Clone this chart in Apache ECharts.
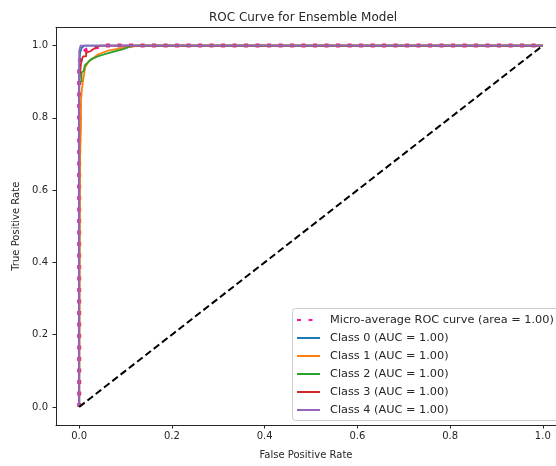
<!DOCTYPE html>
<html>
<head>
<meta charset="utf-8">
<script src="https://cdn.jsdelivr.net/npm/echarts@6/dist/echarts.min.js"></script>
<style>html,body{margin:0;padding:0;background:#fff;}#c{width:556px;height:466px;}</style>
</head>
<body>
<div id="c"></div>
<script>
// ---- data ----
const tickValues = [0, 0.2, 0.4, 0.6, 0.8, 1.0];

const microFpr = [0, 0, 0.003, 0.006, 0.01, 0.015, 0.025, 0.04, 0.06, 1];
const microTpr = [0, 0.95, 0.965, 0.975, 0.982, 0.988, 0.992, 0.996, 1, 1];

const class0Fpr = [0, 0, 0.002, 0.002, 0.006, 0.006, 0.012, 1];
const class0Tpr = [0, 0.94, 0.94, 0.98, 0.98, 0.995, 1, 1];

const class1Fpr = [0, 0.002, 0.004, 0.004, 0.006, 0.008, 0.013, 0.02, 0.03, 0.04, 0.06, 0.08, 0.1, 0.13, 1];
const class1Tpr = [0, 0.7, 0.78, 0.85, 0.88, 0.9, 0.94, 0.955, 0.965, 0.975, 0.985, 0.99, 0.995, 1, 1];

const class2Fpr = [0, 0, 0.005, 0.005, 0.01, 0.012, 0.02, 0.025, 0.04, 0.055, 0.075, 0.095, 0.115, 1];
const class2Tpr = [0, 0.9, 0.9, 0.925, 0.93, 0.945, 0.955, 0.962, 0.97, 0.976, 0.983, 0.99, 1, 1];

const class3Fpr = [0, 0, 0.004, 0.004, 0.008, 0.008, 0.015, 0.015, 0.025, 0.03, 0.045, 1];
const class3Tpr = [0, 0.9, 0.9, 0.95, 0.95, 0.97, 0.97, 0.98, 0.985, 0.99, 1, 1];

const class4Fpr = [0, 0, 0.003, 1];
const class4Tpr = [0, 0.985, 1, 1];

const diagFpr = [0, 1];
const diagTpr = [0, 1];

const seriesNames = [
  'Micro-average ROC curve (area = 1.00)',
  'Class 0 (AUC = 1.00)',
  'Class 1 (AUC = 1.00)',
  'Class 2 (AUC = 1.00)',
  'Class 3 (AUC = 1.00)',
  'Class 4 (AUC = 1.00)'
];
const classColors = ['#1f77b4', '#ff7f0e', '#2ca02c', '#d62728', '#9467bd'];
const microColor = '#ff1493';

function pairs(xs, ys) { return xs.map((x, i) => [x, ys[i]]); }

const FONT = 'DejaVu Sans';
const INK = '#262626';

const classData = [
  pairs(class0Fpr, class0Tpr),
  pairs(class1Fpr, class1Tpr),
  pairs(class2Fpr, class2Tpr),
  pairs(class3Fpr, class3Tpr),
  pairs(class4Fpr, class4Tpr)
];

const series = [{
  name: seriesNames[0],
  type: 'line',
  data: pairs(microFpr, microTpr),
  showSymbol: false,
  symbol: 'none',
  color: microColor,
  lineStyle: { color: microColor, width: 4, type: [4, 7.5], cap: 'butt' },
  animation: false
}];
classData.forEach((d, i) => {
  series.push({
    name: seriesNames[i + 1],
    type: 'line',
    data: d,
    showSymbol: false,
    symbol: 'none',
    color: classColors[i],
    lineStyle: { color: classColors[i], width: 1.8 },
    animation: false
  });
});
series.push({
  name: 'diag',
  type: 'line',
  data: pairs(diagFpr, diagTpr),
  showSymbol: false,
  symbol: 'none',
  color: '#000',
  lineStyle: { color: '#000', width: 2, type: [7, 3.5], cap: 'butt' },
  animation: false
});

const chart = echarts.init(document.getElementById('c'), null, { renderer: 'canvas' });
chart.setOption({
  animation: false,
  backgroundColor: '#fff',
  textStyle: { fontFamily: FONT },
  title: {
    text: 'ROC Curve for Ensemble Model',
    left: 298,
    top: 7,
    textAlign: 'center',
    textStyle: { fontFamily: FONT, fontSize: 12, fontWeight: 'normal', color: INK }
  },
  grid: { left: 56, top: 27.5, width: 510, height: 397.5, outerBoundsMode: 'none', containLabel: false },
  graphic: [{
    type: 'rect',
    z: 3,
    silent: true,
    shape: { x: 292.5, y: 308.5, width: 290, height: 112, r: 3 },
    style: { fill: 'rgba(255,255,255,0.8)', stroke: '#cccccc', lineWidth: 1 }
  }],
  legend: {
    data: seriesNames,
    orient: 'vertical',
    left: 292,
    top: 310,
    z: 4,
    padding: [3, 0, 3, 4],
    itemWidth: 23,
    itemHeight: 14,
    itemGap: 4,
    backgroundColor: 'transparent',
    borderWidth: 0,
    itemStyle: { opacity: 0 },
    textStyle: { fontFamily: FONT, fontSize: 11.3, color: INK, lineHeight: 14, padding: [0, 0, 0, 5] },
    selectedMode: false
  },
  xAxis: [{
    type: 'value',
    min: -0.05,
    max: 1.05,
    position: 'bottom',
    name: 'False Positive Rate',
    nameLocation: 'middle',
    nameGap: 25,
    nameTextStyle: { fontFamily: FONT, fontSize: 10, color: INK, padding: [0, 10, 0, 0] },
    axisLine: { show: true, onZero: false, lineStyle: { color: INK, width: 1 } },
    axisTick: { show: true, inside: false, length: 3.5, customValues: tickValues, lineStyle: { color: INK } },
    axisLabel: { show: true, customValues: tickValues, margin: 6, fontFamily: FONT, fontSize: 10, color: INK,
      formatter: v => v.toFixed(1) },
    splitLine: { show: false }
  }, {
    type: 'value',
    min: -0.05,
    max: 1.05,
    position: 'top',
    axisLine: { show: true, onZero: false, lineStyle: { color: INK, width: 1 } },
    axisTick: { show: false },
    axisLabel: { show: false },
    splitLine: { show: false }
  }],
  yAxis: {
    type: 'value',
    min: -0.05,
    max: 1.05,
    name: 'True Positive Rate',
    nameLocation: 'middle',
    nameGap: 33,
    nameTextStyle: { fontFamily: FONT, fontSize: 10, color: INK },
    axisLine: { show: true, onZero: false, lineStyle: { color: INK, width: 1 } },
    axisTick: { show: true, inside: false, length: 3.5, customValues: tickValues, lineStyle: { color: INK } },
    axisLabel: { show: true, customValues: tickValues, margin: 8, fontFamily: FONT, fontSize: 10, color: INK,
      formatter: v => v.toFixed(1) },
    splitLine: { show: false }
  },
  series: series
});
</script>
</body>
</html>
